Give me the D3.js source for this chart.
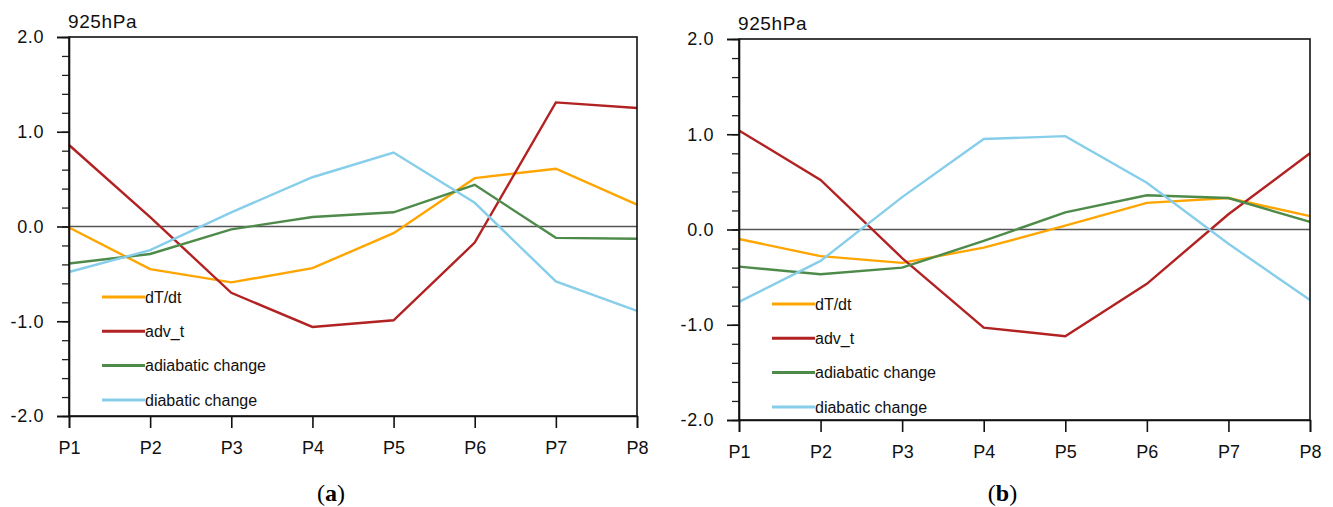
<!DOCTYPE html>
<html>
<head>
<meta charset="utf-8">
<script src="https://cdn.jsdelivr.net/npm/d3@7"></script>
<style>
  body { margin: 0; background: #fff; }
  .tick text { font-family: "Liberation Sans", Arial, sans-serif; }
</style>
</head>
<body>
<script>
// categories and series
var points = ["P1", "P2", "P3", "P4", "P5", "P6", "P7", "P8"];
var seriesNames = ["dT/dt", "adv_t", "adiabatic change", "diabatic change"];
var seriesColors = ["#ffa500", "#b22222", "#4e8b4a", "#87ceeb"];
var yTicks = [-2, -1, 0, 1, 2];
var levelLabel = "925hPa";

// panel (a)
var dtdtA      = [-0.01, -0.45, -0.59, -0.44, -0.07, 0.51, 0.61, 0.23];
var advA       = [0.86, 0.10, -0.70, -1.06, -0.99, -0.17, 1.31, 1.25];
var adiabaticA = [-0.39, -0.29, -0.03, 0.10, 0.15, 0.44, -0.12, -0.13];
var diabaticA  = [-0.48, -0.25, 0.15, 0.52, 0.78, 0.25, -0.58, -0.89];

// panel (b)
var dtdtB      = [-0.10, -0.28, -0.35, -0.19, 0.04, 0.28, 0.33, 0.14];
var advB       = [1.04, 0.52, -0.30, -1.03, -1.12, -0.57, 0.16, 0.80];
var adiabaticB = [-0.39, -0.47, -0.40, -0.12, 0.18, 0.36, 0.33, 0.08];
var diabaticB  = [-0.76, -0.33, 0.34, 0.95, 0.98, 0.49, -0.15, -0.74];

var panels = [
  { tag: "a", left: 69, top: 37, width: 568, height: 379, legendY: 297,
    series: [dtdtA, advA, adiabaticA, diabaticA] },
  { tag: "b", left: 739, top: 39, width: 571, height: 381, legendY: 304,
    series: [dtdtB, advB, adiabaticB, diabaticB] }
];

var svg = d3.select("body").append("svg")
    .attr("width", 1333)
    .attr("height", 507);

panels.forEach(function(p) {
  var g = svg.append("g")
      .attr("transform", "translate(" + p.left + "," + p.top + ")");

  var xScale = d3.scalePoint()
    .domain(points)
    .range([0, p.width]);
  var yScale = d3.scaleLinear()
    .domain([-2, 2])
    .range([p.height, 0]);

  // minor y ticks every 0.2
  g.append("g")
      .call(d3.axisLeft(yScale).tickValues(d3.range(-2, 2.01, 0.2)).tickSize(7).tickFormat(""))
      .call(function(a) { a.select(".domain").remove(); })
      .selectAll("line").attr("stroke", "#222").attr("stroke-width", 1.3);

  // zero line
  g.append("line")
      .attr("x1", 0).attr("x2", p.width)
      .attr("y1", yScale(0)).attr("y2", yScale(0))
      .attr("stroke", "#555").attr("stroke-width", 1.4);

  // lines
  var line = d3.line()
    .x(function(d, i) { return xScale(points[i]); })
    .y(function(d) { return yScale(d); });

  p.series.forEach(function(vals, k) {
    g.append("path")
        .datum(vals)
        .attr("fill", "none")
        .attr("stroke", seriesColors[k])
        .attr("stroke-width", 2.4)
        .attr("d", line);
  });

  // frame
  g.append("rect")
      .attr("width", p.width).attr("height", p.height)
      .attr("fill", "none").attr("stroke", "#111").attr("stroke-width", 1.6);

  // y axis
  var yAxis = g.append("g")
      .call(d3.axisLeft(yScale).tickValues(yTicks).tickSize(12).tickPadding(13)
        .tickFormat(d3.format(".1f")));
  yAxis.select(".domain").attr("stroke", "#111").attr("stroke-width", 1.6);
  yAxis.selectAll("line").attr("stroke", "#111").attr("stroke-width", 1.6);
  yAxis.selectAll("text").attr("font-size", 18).attr("fill", "#111")
      .attr("letter-spacing", 0.6).text(function(d) { return d3.format(".1f")(d).replace("−", "-"); });

  // x axis
  var xAxis = g.append("g")
      .attr("transform", "translate(0," + p.height + ")")
      .call(d3.axisBottom(xScale).tickSize(12).tickPadding(13));
  xAxis.select(".domain").attr("stroke", "#111").attr("stroke-width", 1.6);
  xAxis.selectAll("line").attr("stroke", "#111").attr("stroke-width", 1.6);
  xAxis.selectAll("text").attr("font-size", 18).attr("fill", "#111");

  // level label
  g.append("text")
      .attr("x", -1).attr("y", -9)
      .attr("font-family", "Liberation Sans, Arial, sans-serif")
      .attr("font-size", 19)
      .attr("letter-spacing", 0.6)
      .attr("fill", "#111")
      .text(levelLabel);

  // legend
  var legend = g.append("g")
      .attr("transform", "translate(33," + (p.legendY - p.top) + ")");
  seriesNames.forEach(function(name, k) {
    var row = legend.append("g").attr("transform", "translate(0," + (k * 34.3) + ")");
    row.append("line")
        .attr("x1", 0).attr("x2", 43)
        .attr("stroke", seriesColors[k]).attr("stroke-width", 3);
    row.append("text")
        .attr("x", 43).attr("dy", "0.35em")
        .attr("font-family", "Liberation Sans, Arial, sans-serif")
        .attr("font-size", 16)
        .attr("fill", "#111")
        .text(name);
  });

  // caption
  svg.append("text")
      .attr("x", p.left + p.width / 2 - 22)
      .attr("y", 501)
      .attr("text-anchor", "middle")
      .attr("font-family", "Liberation Serif, serif")
      .attr("font-size", 24)
      .attr("fill", "#000")
      .html("(<tspan font-weight='bold'>" + p.tag + "</tspan>)");
});
</script>
</body>
</html>
